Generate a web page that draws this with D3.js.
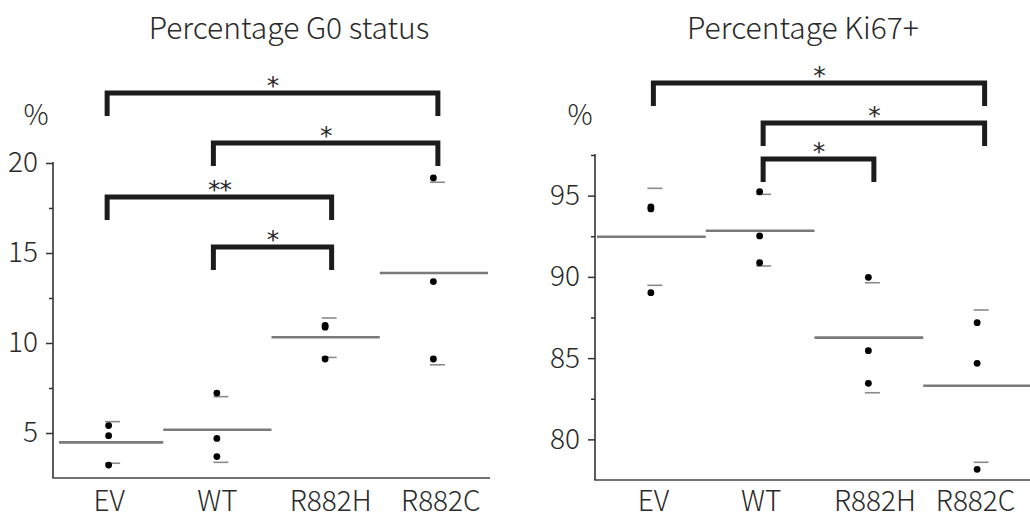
<!DOCTYPE html>
<html>
<head>
<meta charset="utf-8">
<script src="https://cdn.jsdelivr.net/npm/d3@7/dist/d3.min.js"></script>
<style>
  html, body { margin: 0; padding: 0; background: #ffffff; }
  svg { display: block; }
  text { font-family: "Noto Sans CJK JP", "Open Sans", sans-serif; fill: #2a2a2a; }
</style>
</head>
<body>
<svg id="chart" width="1030" height="520"></svg>
<script>
// ---------- data ----------
const categories = ["EV", "WT", "R882H", "R882C"];

// Panel 1: Percentage G0 status
const g0Title = "Percentage G0 status";
const g0Points = [[5.41, 4.85, 3.22], [7.22, 4.70, 3.69], [10.98, 10.88, 9.11], [19.17, 13.41, 9.11]];
const g0Means = [4.48, 5.18, 10.32, 13.89];
const g0Upper = [5.63, 7.02, 11.39, 18.93];
const g0Lower = [3.32, 3.37, 9.20, 8.79];
const g0Ticks = [5, 10, 15, 20];
const g0MinorTicks = [7.5, 12.5, 17.5];
const g0Domain = [2.5, 20];
const g0Comparisons = [["EV", "R882C", "*"], ["WT", "R882C", "*"], ["EV", "R882H", "**"], ["WT", "R882H", "*"]];

// Panel 2: Percentage Ki67+
const kiTitle = "Percentage Ki67+";
const kiPoints = [[94.30, 94.18, 89.03], [95.24, 92.52, 90.87], [89.97, 85.46, 83.45], [87.18, 84.68, 78.16]];
const kiMeans = [92.47, 92.84, 86.26, 83.30];
const kiUpper = [95.45, 95.08, 89.64, 87.96];
const kiLower = [89.48, 90.67, 82.87, 78.59];
const kiTicks = [80, 85, 90, 95];
const kiMinorTicks = [82.5, 87.5, 92.5, 97.5];
const kiDomain = [77.5, 97.5];
const kiComparisons = [["EV", "R882C", "*"], ["WT", "R882C", "*"], ["WT", "R882H", "*"]];

// ---------- drawing ----------
const svg = d3.select("#chart");
const FONT = '"Noto Sans CJK JP", "Open Sans", sans-serif';

function panel(cfg) {
  const g = svg.append("g");
  const x = d3.scaleBand().domain(categories).range([cfg.x0, cfg.x1]).padding(0);
  const y = d3.scaleLinear().domain(cfg.domain).range([cfg.yBottom, cfg.yTop]);
  const cx = c => x(c) + x.bandwidth() / 2;

  // title
  g.append("text")
    .attr("x", cfg.titleX).attr("y", 39)
    .attr("text-anchor", "middle")
    .style("font-size", "30px")
    .style("font-weight", 300)
    .text(cfg.title);

  // % unit label
  g.append("text")
    .attr("x", cfg.pctX).attr("y", 125)
    .attr("text-anchor", "middle")
    .style("font-size", "28px")
    .style("font-weight", 300)
    .text("%");

  // y axis
  const yAxis = d3.axisLeft(y).tickValues(cfg.ticks).tickSize(7).tickPadding(8).tickFormat(d3.format("d"));
  const ya = g.append("g").attr("transform", `translate(${cfg.x0 - 2},0)`).call(yAxis);
  ya.select(".domain").remove();
  ya.selectAll(".tick line").attr("stroke", "#333").attr("stroke-width", 1.5);
  ya.selectAll(".tick text")
    .style("font-family", FONT)
    .style("font-size", "28px").style("font-weight", 300).attr("fill", "#2a2a2a");
  // minor ticks
  const yMinor = d3.axisLeft(y).tickValues(cfg.minorTicks).tickSize(4).tickFormat("");
  const ym = g.append("g").attr("transform", `translate(${cfg.x0 - 2},0)`).call(yMinor);
  ym.select(".domain").remove();
  ym.selectAll(".tick line").attr("stroke", "#333").attr("stroke-width", 1.5);
  // axis line
  g.append("line")
    .attr("x1", cfg.x0 - 2).attr("x2", cfg.x0 - 2)
    .attr("y1", y(cfg.domain[1]) - 1).attr("y2", cfg.yBottom)
    .attr("stroke", "#333").attr("stroke-width", 1.6);

  // x axis
  const xAxis = d3.axisBottom(x).tickSize(0).tickPadding(cfg.xPad);
  const xa = g.append("g").attr("transform", `translate(0,${cfg.yBottom})`).call(xAxis);
  xa.select(".domain").remove();
  xa.selectAll(".tick text")
    .attr("transform", d => `translate(${cfg.labelShift[categories.indexOf(d)]},0)`)
    .style("font-family", FONT)
    .style("font-size", "28px").style("font-weight", 300).attr("fill", "#2a2a2a");
  g.append("line")
    .attr("x1", cfg.x0 - 2.8).attr("x2", cfg.axisEnd)
    .attr("y1", cfg.yBottom).attr("y2", cfg.yBottom)
    .attr("stroke", "#444").attr("stroke-width", 1.6);

  // mean lines
  g.selectAll(".mean").data(categories).enter().append("line")
    .attr("x1", c => x(c) + (c === categories[0] ? cfg.firstMeanInset : 0))
    .attr("x2", c => x(c) + x.bandwidth())
    .attr("y1", (c, i) => y(cfg.means[i])).attr("y2", (c, i) => y(cfg.means[i]))
    .attr("stroke", "#7a7a7a").attr("stroke-width", 2.6);

  // SD dashes
  const dashes = [];
  categories.forEach((c, i) => { dashes.push([c, cfg.upper[i]]); dashes.push([c, cfg.lower[i]]); });
  g.selectAll(".sd").data(dashes).enter().append("line")
    .attr("x1", d => cx(d[0]) - 4).attr("x2", d => cx(d[0]) + 11)
    .attr("y1", d => y(d[1])).attr("y2", d => y(d[1]))
    .attr("stroke", "#8a8a8a").attr("stroke-width", 1.6);

  // dots
  const dots = [];
  categories.forEach((c, i) => cfg.points[i].forEach(v => dots.push([c, v])));
  g.selectAll(".dot").data(dots).enter().append("circle")
    .attr("cx", d => cx(d[0]) - 0.5).attr("cy", d => y(d[1]))
    .attr("r", 3.4).attr("fill", "#000");

  // significance brackets
  cfg.comparisons.forEach((cmp, k) => {
    const xa0 = cx(cmp[0]) + cfg.legOffsets[categories.indexOf(cmp[0])];
    const xb0 = cx(cmp[1]) + cfg.legOffsets[categories.indexOf(cmp[1])];
    const by = cfg.bracketY[k];
    g.append("path")
      .attr("d", `M${xa0},${by + 23}V${by}H${xb0}V${by + 23}`)
      .attr("fill", "none").attr("stroke", "#1c1c1c")
      .attr("stroke-width", 5).attr("stroke-linejoin", "miter").attr("stroke-linecap", "butt");
    g.append("text")
      .attr("x", (xa0 + xb0) / 2).attr("y", by + 0.5)
      .attr("text-anchor", "middle")
      .style("font-family", '"DejaVu Sans", sans-serif')
      .style("font-size", "25px")
      .style("letter-spacing", "-1px")
      .attr("fill", "#333")
      .text(cmp[2]);
  });
}

panel({
  title: g0Title, titleX: 289, pctX: 36,
  x0: 55, x1: 488, axisEnd: 490, yTop: 163, yBottom: 478, xPad: 13,
  domain: g0Domain, ticks: g0Ticks, minorTicks: g0MinorTicks,
  points: g0Points, means: g0Means, upper: g0Upper, lower: g0Lower,
  comparisons: g0Comparisons, bracketY: [93, 143, 197, 247],
  legOffsets: [-2, -4, 6, 4], labelShift: [0, 0, 5, 7], firstMeanInset: 4
});

panel({
  title: kiTitle, titleX: 803, pctX: 580,
  x0: 597, x1: 1032, axisEnd: 1030, yTop: 155, yBottom: 480, xPad: 11,
  domain: kiDomain, ticks: kiTicks, minorTicks: kiMinorTicks,
  points: kiPoints, means: kiMeans, upper: kiUpper, lower: kiLower,
  comparisons: kiComparisons, bracketY: [83, 123, 159],
  legOffsets: [2, 3, 5, 7], labelShift: [2, 1, 6, -2], firstMeanInset: 0
});
</script>
</body>
</html>
